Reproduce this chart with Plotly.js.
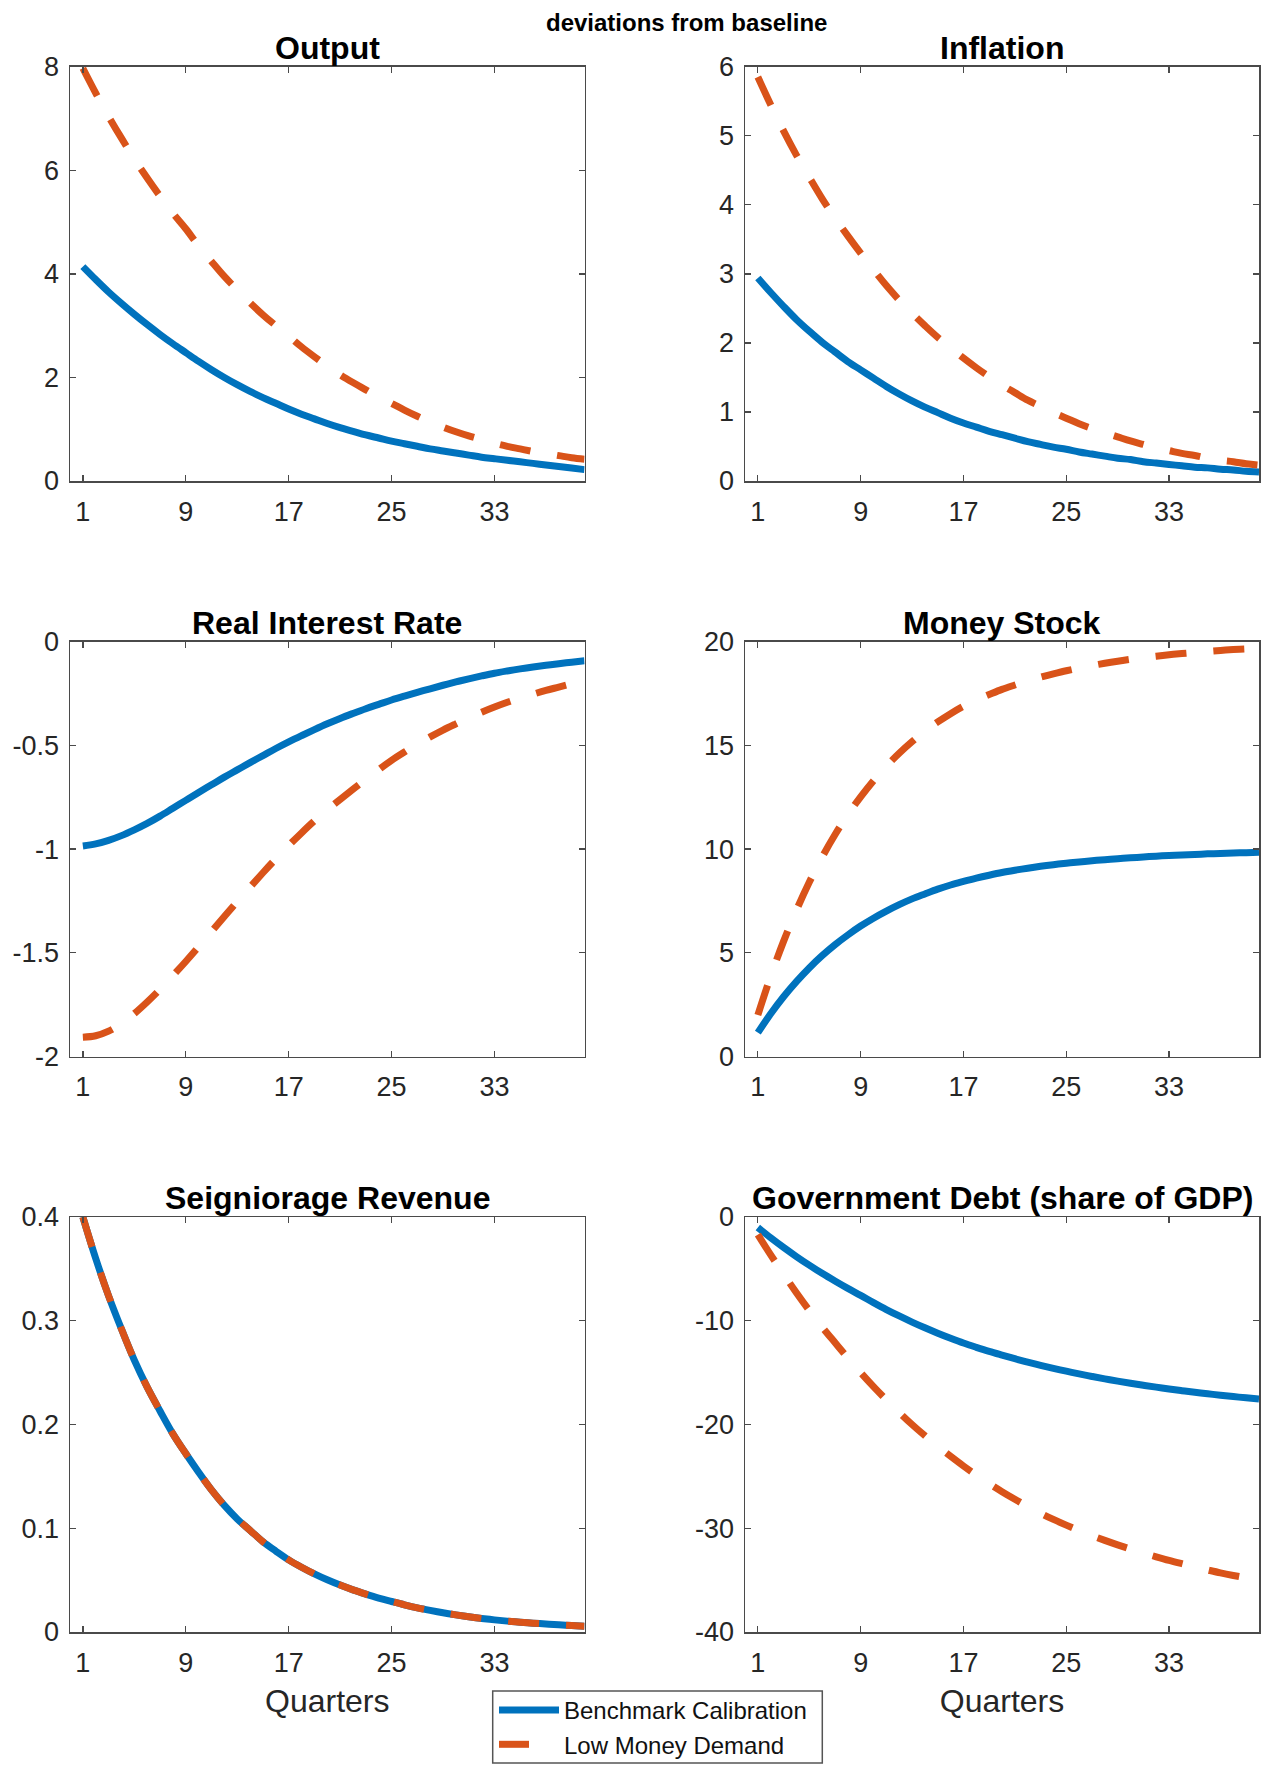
<!DOCTYPE html>
<html>
<head>
<meta charset="utf-8">
<script src="https://cdn.plot.ly/plotly-3.0.1.min.js"></script>
<style>
  html, body { margin: 0; padding: 0; background: #ffffff; }
  #chart { width: 1267px; height: 1775px; }
</style>
</head>
<body>
<div id="chart"></div>
<script>
// ---------------- DATA ----------------
const quarters = [1,2,3,4,5,6,7,8,9,10,11,12,13,14,15,16,17,18,19,20,21,22,23,24,25,26,27,28,29,30,31,32,33,34,35,36,37,38,39,40];
const xTickVals = [1, 9, 17, 25, 33];
const seriesNames = ["Benchmark Calibration", "Low Money Demand"];
const panelTitles = ["Output", "Inflation", "Real Interest Rate", "Money Stock", "Seigniorage Revenue", "Government Debt (share of GDP)"];
const xAxisTitle = "Quarters";
const subtitleText = "deviations from baseline";

const outputBench = [4.14,3.89,3.65,3.43,3.22,3.02,2.83,2.65,2.48,2.31,2.15,2.00,1.86,1.73,1.61,1.50,1.39,1.29,1.20,1.11,1.03,0.96,0.89,0.83,0.77,0.72,0.67,0.62,0.58,0.54,0.50,0.46,0.43,0.40,0.37,0.34,0.31,0.28,0.25,0.22];
const outputLow   = [7.97,7.49,7.04,6.62,6.22,5.85,5.50,5.17,4.87,4.54,4.24,3.95,3.69,3.44,3.21,3.00,2.80,2.59,2.40,2.22,2.05,1.90,1.76,1.62,1.50,1.37,1.25,1.14,1.04,0.95,0.87,0.80,0.73,0.67,0.62,0.57,0.53,0.49,0.45,0.42];

const inflationBench = [2.94,2.73,2.53,2.34,2.17,2.01,1.87,1.73,1.61,1.49,1.37,1.26,1.16,1.07,0.99,0.91,0.84,0.78,0.72,0.67,0.62,0.57,0.53,0.49,0.46,0.42,0.39,0.36,0.33,0.31,0.28,0.26,0.24,0.22,0.20,0.19,0.17,0.16,0.14,0.13];
const inflationLow   = [5.85,5.45,5.07,4.72,4.40,4.09,3.81,3.55,3.30,3.06,2.83,2.62,2.43,2.25,2.08,1.93,1.78,1.64,1.51,1.39,1.28,1.17,1.08,0.99,0.91,0.83,0.76,0.70,0.64,0.58,0.53,0.48,0.44,0.40,0.37,0.33,0.30,0.28,0.25,0.23];

const realRateBench = [-0.985,-0.975,-0.958,-0.935,-0.907,-0.876,-0.841,-0.803,-0.765,-0.727,-0.690,-0.653,-0.618,-0.583,-0.549,-0.515,-0.483,-0.453,-0.424,-0.396,-0.370,-0.346,-0.323,-0.302,-0.281,-0.262,-0.244,-0.227,-0.210,-0.194,-0.179,-0.165,-0.152,-0.141,-0.131,-0.122,-0.114,-0.106,-0.099,-0.092];
const realRateLow   = [-1.907,-1.900,-1.878,-1.841,-1.793,-1.737,-1.676,-1.610,-1.542,-1.471,-1.398,-1.325,-1.253,-1.183,-1.114,-1.047,-0.983,-0.922,-0.864,-0.811,-0.761,-0.712,-0.664,-0.617,-0.572,-0.532,-0.495,-0.459,-0.426,-0.396,-0.367,-0.340,-0.315,-0.292,-0.272,-0.253,-0.235,-0.219,-0.203,-0.188];

const moneyBench = [1.15,2.06,2.88,3.61,4.27,4.86,5.39,5.86,6.29,6.67,7.01,7.32,7.60,7.84,8.07,8.27,8.44,8.60,8.74,8.87,8.98,9.08,9.17,9.25,9.32,9.38,9.44,9.49,9.54,9.58,9.62,9.66,9.69,9.72,9.74,9.77,9.79,9.81,9.83,9.85];
const moneyLow   = [2.00,3.87,5.55,7.05,8.40,9.61,10.69,11.66,12.52,13.30,14.00,14.62,15.18,15.68,16.13,16.53,16.89,17.19,17.45,17.70,17.91,18.11,18.29,18.45,18.60,18.73,18.85,18.96,19.06,19.15,19.23,19.30,19.37,19.43,19.48,19.53,19.58,19.62,19.65,19.69];

const seigniorageBench = [0.400,0.360,0.324,0.292,0.262,0.236,0.213,0.191,0.172,0.154,0.137,0.122,0.109,0.098,0.087,0.078,0.0695,0.0624,0.0560,0.0503,0.0452,0.0406,0.0365,0.0327,0.0294,0.0262,0.0233,0.0208,0.0185,0.0165,0.0147,0.0131,0.0117,0.0105,0.0094,0.0085,0.0077,0.0069,0.0062,0.0056];
const seigniorageLow   = [0.400,0.360,0.324,0.292,0.262,0.236,0.213,0.191,0.172,0.154,0.137,0.122,0.109,0.098,0.087,0.078,0.0695,0.0624,0.0560,0.0503,0.0452,0.0406,0.0365,0.0327,0.0294,0.0262,0.0233,0.0208,0.0185,0.0165,0.0147,0.0131,0.0117,0.0105,0.0094,0.0085,0.0077,0.0069,0.0062,0.0056];

const debtBench = [-1.02,-2.00,-2.93,-3.81,-4.64,-5.43,-6.17,-6.88,-7.55,-8.25,-8.92,-9.54,-10.13,-10.68,-11.20,-11.69,-12.15,-12.56,-12.95,-13.31,-13.66,-13.99,-14.30,-14.59,-14.86,-15.12,-15.37,-15.60,-15.82,-16.02,-16.22,-16.40,-16.57,-16.74,-16.89,-17.04,-17.18,-17.31,-17.43,-17.54];
const debtLow   = [-1.70,-3.65,-5.50,-7.30,-9.00,-10.60,-12.10,-13.58,-15.00,-16.35,-17.62,-18.84,-20.00,-21.08,-22.10,-23.07,-24.00,-24.87,-25.70,-26.47,-27.20,-27.90,-28.55,-29.15,-29.70,-30.22,-30.71,-31.17,-31.60,-32.00,-32.38,-32.75,-33.10,-33.42,-33.73,-34.02,-34.30,-34.55,-34.78,-35.00];

const yTicks = [
  [0, 2, 4, 6, 8],
  [0, 1, 2, 3, 4, 5, 6],
  [-2, -1.5, -1, -0.5, 0],
  [0, 5, 10, 15, 20],
  [0, 0.1, 0.2, 0.3, 0.4],
  [-40, -30, -20, -10, 0]
];
const yTickLabels = [
  ["0", "2", "4", "6", "8"],
  ["0", "1", "2", "3", "4", "5", "6"],
  ["-2", "-1.5", "-1", "-0.5", "0"],
  ["0", "5", "10", "15", "20"],
  ["0", "0.1", "0.2", "0.3", "0.4"],
  ["-40", "-30", "-20", "-10", "0"]
];
const yRanges = [[0, 8], [0, 6], [-2, 0], [0, 20], [0, 0.4], [-40, 0]];

const benchSeries = [outputBench, inflationBench, realRateBench, moneyBench, seigniorageBench, debtBench];
const lowSeries = [outputLow, inflationLow, realRateLow, moneyLow, seigniorageLow, debtLow];

// ---------------- STYLE / LAYOUT ----------------
const W = 1267, H = 1775;
const colBounds = [[70, 584.5], [745, 1259]];
const rowBounds = [[66.7, 481], [641.7, 1056.5], [1217, 1632]];
const blue = "#0072BD", orange = "#D95319";
const axisColor = "#4a4a4a", textColor = "#262626";
const FONT = "'Liberation Sans', Arial, Helvetica, sans-serif";
const DASH = "31px,27px";

const traces = [];
const layout = {
  width: W, height: H,
  margin: {l: 0, r: 0, t: 0, b: 0},
  paper_bgcolor: "#ffffff", plot_bgcolor: "#ffffff",
  font: {family: FONT, color: textColor},
  showlegend: true,
  legend: {
    x: 494 / W, y: 1 - 1688 / H, xanchor: "left", yanchor: "top",
    bgcolor: "rgba(0,0,0,0)", borderwidth: 0,
    font: {size: 24, color: "#111111", family: FONT},
    itemwidth: 60, tracegroupgap: 0
  },
  annotations: [],
  shapes: [{
    type: "rect", xref: "paper", yref: "paper", layer: "above",
    x0: 492.7 / W, x1: 822.3 / W, y0: 1 - 1763 / H, y1: 1 - 1691 / H,
    line: {color: "#555555", width: 1.5}, fillcolor: "#ffffff"
  }]
};

for (let i = 0; i < 6; i++) {
  const col = i % 2, row = Math.floor(i / 2);
  const n = i + 1;
  const xa = "x" + (n === 1 ? "" : n), ya = "y" + (n === 1 ? "" : n);
  const xd = [colBounds[col][0] / W, colBounds[col][1] / W];
  const yd = [1 - rowBounds[row][1] / H, 1 - rowBounds[row][0] / H];
  const xKey = "xaxis" + (n === 1 ? "" : n), yKey = "yaxis" + (n === 1 ? "" : n);

  layout[xKey] = {
    domain: xd, anchor: ya, range: [0, 40],
    tickmode: "array", tickvals: xTickVals, ticktext: xTickVals.map(String),
    ticks: "inside", ticklen: 6, tickwidth: 1.3, tickcolor: axisColor,
    showline: true, linecolor: axisColor, linewidth: 1.5, mirror: "ticks",
    showgrid: false, zeroline: false, fixedrange: true,
    tickfont: {size: 27, color: textColor, family: FONT},
    ticklabelstandoff: 6
  };
  if (row === 2) {
    layout[xKey].title = {text: xAxisTitle, font: {size: 32, color: textColor, family: FONT}, standoff: 12};
  }
  layout[yKey] = {
    domain: yd, anchor: xa, range: yRanges[i],
    tickmode: "array", tickvals: yTicks[i], ticktext: yTickLabels[i],
    ticks: "inside", ticklen: 6, tickwidth: 1.3, tickcolor: axisColor,
    showline: true, linecolor: axisColor, linewidth: 1.5, mirror: "ticks",
    showgrid: false, zeroline: false, fixedrange: true,
    tickfont: {size: 27, color: textColor, family: FONT},
    ticklabelstandoff: 4
  };

  traces.push({
    type: "scatter", mode: "lines", x: quarters, y: benchSeries[i],
    xaxis: xa, yaxis: ya, name: seriesNames[0],
    showlegend: i === 0, hoverinfo: "skip",
    line: {color: blue, width: 7, shape: "spline", smoothing: 1}
  });
  traces.push({
    type: "scatter", mode: "lines", x: quarters, y: lowSeries[i],
    xaxis: xa, yaxis: ya, name: seriesNames[1],
    showlegend: false, hoverinfo: "skip",
    line: {color: orange, width: 7, dash: DASH, shape: "spline", smoothing: 1}
  });

  layout.annotations.push({
    text: "<b>" + panelTitles[i] + "</b>",
    xref: "paper", yref: "paper",
    x: (xd[0] + xd[1]) / 2, y: yd[1], yshift: -1,
    xanchor: "center", yanchor: "bottom", showarrow: false,
    font: {size: 32, color: "#000000", family: FONT}
  });
}

// legend entry for the dashed series (single dash in the key, as in the original)
traces.push({
  type: "scatter", mode: "lines", x: [null], y: [null],
  xaxis: "x", yaxis: "y", name: seriesNames[1], showlegend: true, hoverinfo: "skip",
  line: {color: orange, width: 7, dash: "30px,60px"}
});

layout.annotations.push({
  text: "<b>" + subtitleText + "</b>",
  xref: "paper", yref: "paper",
  x: 686.7 / W, y: 1 - 22.6 / H, xanchor: "center", yanchor: "middle",
  showarrow: false, font: {size: 24, color: "#000000", family: FONT}
});

Plotly.newPlot("chart", traces, layout, {staticPlot: true, displayModeBar: false});
</script>
</body>
</html>
